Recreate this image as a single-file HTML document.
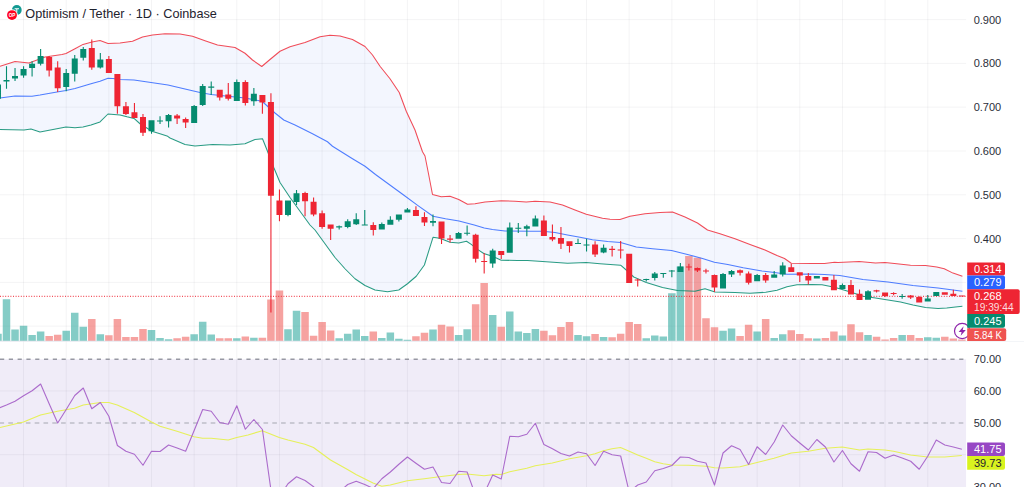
<!DOCTYPE html><html><head><meta charset="utf-8"><title>OP/USDT</title><style>
html,body{margin:0;padding:0;background:#fff}body{width:1024px;height:487px;overflow:hidden;font-family:"Liberation Sans",sans-serif}svg{display:block}text{font-family:"Liberation Sans",sans-serif}
</style></head><body>
<svg width="1024" height="487" viewBox="0 0 1024 487">
<rect width="1024" height="487" fill="#fff"/>
<rect x="0" y="359.2" width="966.3" height="127.80000000000001" fill="#7e57c2" fill-opacity="0.115"/>
<path d="M23.56 0V487 M66.21 0V487 M108.86 0V487 M151.51 0V487 M194.16 0V487 M236.81 0V487 M279.46 0V487 M322.11 0V487 M364.76 0V487 M407.41 0V487 M458.59 0V487 M501.24 0V487 M543.89 0V487 M586.54 0V487 M629.19 0V487 M671.84 0V487 M714.49 0V487 M757.14 0V487 M799.79 0V487 M842.44 0V487 M885.09 0V487 M927.74 0V487 M0 19.60H966.3 M0 63.40H966.3 M0 107.20H966.3 M0 151.00H966.3 M0 194.80H966.3 M0 238.60H966.3 M0 282.40H966.3 M0 326.20H966.3 M0 390.90H966.3 M0 454.70H966.3" stroke="#2a2e39" stroke-opacity="0.05" stroke-width="1" fill="none"/>
<path d="M0 341.1H1024" stroke="#e0e3eb" stroke-width="1" fill="none"/>
<polygon points="-3.00,67.00 0.00,66.30 15.00,61.50 29.00,63.10 45.00,56.90 62.00,54.40 66.00,53.50 75.00,48.75 83.00,44.40 92.00,41.90 100.00,40.60 108.00,43.40 120.00,43.00 132.50,41.25 142.50,37.00 152.50,35.00 165.00,33.75 180.00,34.00 192.50,36.25 205.00,40.75 217.50,45.00 235.00,47.50 245.00,53.25 252.50,60.00 261.75,66.50 270.00,59.50 280.00,51.25 290.00,46.75 305.00,42.50 320.00,36.75 330.00,35.25 340.00,35.90 352.50,39.50 365.00,46.50 372.50,55.00 380.00,66.25 390.00,78.75 399.25,92.50 406.25,111.25 415.00,130.00 422.50,151.75 425.00,156.00 428.75,175.00 432.50,194.50 441.25,196.75 450.00,196.25 458.75,199.50 467.50,204.25 475.00,203.75 485.00,202.00 501.25,200.75 515.00,201.25 526.25,202.00 535.00,201.25 550.00,202.00 562.50,205.00 575.00,210.00 586.25,214.25 602.50,218.25 610.00,219.25 620.00,219.50 630.00,216.25 645.00,213.75 660.00,212.50 672.50,212.00 685.00,217.00 697.50,223.00 707.50,230.00 720.00,233.75 735.00,238.75 750.00,244.50 765.00,250.00 777.00,255.60 784.50,258.50 791.25,263.20 812.00,263.60 824.50,263.40 834.50,262.25 838.00,262.50 859.25,261.50 875.50,262.90 885.00,262.50 896.75,263.75 910.50,265.25 925.50,265.60 936.75,266.90 944.25,268.75 953.00,273.10 962.40,276.25 962.40,306.25 955.50,306.90 946.75,308.10 938.00,308.40 925.50,307.50 913.00,305.00 900.50,302.10 888.00,300.00 875.50,298.10 863.00,296.25 850.50,291.90 837.00,288.10 829.50,286.25 822.00,284.70 812.00,284.50 797.00,284.80 787.00,286.70 777.00,290.25 765.75,292.25 750.00,293.20 735.00,292.60 715.00,292.00 705.00,288.75 695.00,291.25 677.50,290.50 662.50,287.50 646.25,282.60 633.75,277.00 626.25,270.00 620.60,265.20 600.00,263.75 586.25,262.50 567.50,263.20 542.50,261.50 527.50,260.60 517.50,260.40 501.25,260.30 496.25,258.10 490.00,255.60 483.75,253.50 477.50,249.40 471.25,244.40 466.50,241.25 458.75,243.00 450.00,242.25 443.00,239.60 438.00,238.10 433.00,237.30 424.40,265.00 416.25,276.25 407.50,283.75 398.75,290.00 387.50,291.75 375.00,290.00 365.00,285.50 355.00,278.75 345.00,268.75 335.00,257.50 325.00,243.75 315.00,230.00 310.00,225.00 300.00,211.25 290.00,197.50 280.00,182.50 273.75,167.50 267.50,151.25 262.50,138.75 255.00,139.50 245.00,143.75 230.00,145.00 212.50,144.50 195.00,146.00 185.00,144.50 170.00,138.00 167.00,135.90 160.00,133.75 151.00,130.90 148.00,128.75 140.00,123.75 134.00,118.40 127.00,116.80 120.00,115.00 117.00,114.75 108.00,114.00 100.00,121.90 91.00,125.00 83.00,126.90 75.00,127.75 66.00,126.90 40.00,131.90 31.00,129.10 24.00,130.00 0.00,129.40 -3.00,129.30" fill="#3769ee" fill-opacity="0.06"/>
<path d="M-5.78 340.7V333.75H1.72V340.7Z M2.75 340.7V299.25H10.25V340.7Z M11.28 340.7V329.50H18.78V340.7Z M19.81 340.7V325.75H27.31V340.7Z M28.34 340.7V335.00H35.84V340.7Z M36.87 340.7V331.50H44.37V340.7Z M62.46 340.7V330.75H69.96V340.7Z M70.99 340.7V312.75H78.49V340.7Z M79.52 340.7V326.75H87.02V340.7Z M96.58 340.7V334.25H104.08V340.7Z M147.76 340.7V330.00H155.26V340.7Z M156.29 340.7V338.00H163.79V340.7Z M164.82 340.7V339.25H172.32V340.7Z M190.41 340.7V334.25H197.91V340.7Z M198.94 340.7V321.75H206.44V340.7Z M207.47 340.7V334.60H214.97V340.7Z M233.06 340.7V338.25H240.56V340.7Z M250.12 340.7V337.75H257.62V340.7Z M284.24 340.7V329.25H291.74V340.7Z M292.77 340.7V310.75H300.27V340.7Z M335.42 340.7V338.25H342.92V340.7Z M343.95 340.7V333.75H351.45V340.7Z M352.48 340.7V329.50H359.98V340.7Z M361.01 340.7V336.00H368.51V340.7Z M378.07 340.7V338.00H385.57V340.7Z M386.60 340.7V332.50H394.10V340.7Z M395.13 340.7V338.75H402.63V340.7Z M403.66 340.7V339.75H411.16V340.7Z M429.25 340.7V329.50H436.75V340.7Z M454.84 340.7V335.00H462.34V340.7Z M463.37 340.7V329.25H470.87V340.7Z M488.96 340.7V315.00H496.46V340.7Z M506.02 340.7V311.50H513.52V340.7Z M514.55 340.7V331.50H522.05V340.7Z M523.08 340.7V333.00H530.58V340.7Z M531.61 340.7V329.00H539.11V340.7Z M574.26 340.7V335.00H581.76V340.7Z M582.79 340.7V336.25H590.29V340.7Z M599.85 340.7V337.00H607.35V340.7Z M642.50 340.7V338.25H650.00V340.7Z M651.03 340.7V335.50H658.53V340.7Z M659.56 340.7V336.50H667.06V340.7Z M668.09 340.7V293.25H675.59V340.7Z M676.62 340.7V266.50H684.12V340.7Z M719.27 340.7V330.75H726.77V340.7Z M727.80 340.7V328.50H735.30V340.7Z M753.39 340.7V331.50H760.89V340.7Z M770.45 340.7V338.00H777.95V340.7Z M778.98 340.7V334.25H786.48V340.7Z M813.10 340.7V338.50H820.60V340.7Z M838.69 340.7V335.50H846.19V340.7Z M864.28 340.7V335.00H871.78V340.7Z M898.40 340.7V335.00H905.90V340.7Z M923.99 340.7V337.25H931.49V340.7Z M932.52 340.7V337.75H940.02V340.7Z" fill="#26a69a" fill-opacity="0.57"/>
<path d="M45.40 340.7V336.00H52.90V340.7Z M53.93 340.7V334.75H61.43V340.7Z M88.05 340.7V319.00H95.55V340.7Z M105.11 340.7V335.25H112.61V340.7Z M113.64 340.7V319.00H121.14V340.7Z M122.17 340.7V337.00H129.67V340.7Z M130.70 340.7V337.00H138.20V340.7Z M139.23 340.7V329.00H146.73V340.7Z M173.35 340.7V338.25H180.85V340.7Z M181.88 340.7V336.75H189.38V340.7Z M216.00 340.7V338.25H223.50V340.7Z M224.53 340.7V338.25H232.03V340.7Z M241.59 340.7V336.50H249.09V340.7Z M258.65 340.7V337.75H266.15V340.7Z M267.18 340.7V299.50H274.68V340.7Z M275.71 340.7V290.50H283.21V340.7Z M301.30 340.7V312.00H308.80V340.7Z M309.83 340.7V335.75H317.33V340.7Z M318.36 340.7V322.00H325.86V340.7Z M326.89 340.7V330.50H334.39V340.7Z M369.54 340.7V331.50H377.04V340.7Z M412.19 340.7V336.25H419.69V340.7Z M420.72 340.7V332.75H428.22V340.7Z M437.78 340.7V324.75H445.28V340.7Z M446.31 340.7V326.50H453.81V340.7Z M471.90 340.7V304.25H479.40V340.7Z M480.43 340.7V283.00H487.93V340.7Z M497.49 340.7V326.75H504.99V340.7Z M540.14 340.7V330.75H547.64V340.7Z M548.67 340.7V335.25H556.17V340.7Z M557.20 340.7V327.00H564.70V340.7Z M565.73 340.7V322.00H573.23V340.7Z M591.32 340.7V334.00H598.82V340.7Z M608.38 340.7V337.25H615.88V340.7Z M616.91 340.7V333.75H624.41V340.7Z M625.44 340.7V322.00H632.94V340.7Z M633.97 340.7V324.00H641.47V340.7Z M685.15 340.7V256.00H692.65V340.7Z M693.68 340.7V257.75H701.18V340.7Z M702.21 340.7V318.25H709.71V340.7Z M710.74 340.7V327.25H718.24V340.7Z M736.33 340.7V336.00H743.83V340.7Z M744.86 340.7V324.75H752.36V340.7Z M761.92 340.7V319.00H769.42V340.7Z M787.51 340.7V330.25H795.01V340.7Z M796.04 340.7V334.00H803.54V340.7Z M804.57 340.7V338.25H812.07V340.7Z M821.63 340.7V338.00H829.13V340.7Z M830.16 340.7V331.50H837.66V340.7Z M847.22 340.7V324.25H854.72V340.7Z M855.75 340.7V332.25H863.25V340.7Z M872.81 340.7V336.75H880.31V340.7Z M881.34 340.7V339.50H888.84V340.7Z M889.87 340.7V338.00H897.37V340.7Z M906.93 340.7V335.00H914.43V340.7Z M915.46 340.7V338.00H922.96V340.7Z M941.05 340.7V336.75H948.55V340.7Z M949.58 340.7V338.50H957.08V340.7Z M958.11 340.7V339.50H965.61V340.7Z" fill="#ef5350" fill-opacity="0.54"/>
<path d="M0 296.3H966.3" stroke="#ee2533" stroke-width="1" stroke-dasharray="1 1.6" fill="none"/>
<polyline points="-3.00,67.00 0.00,66.30 15.00,61.50 29.00,63.10 45.00,56.90 62.00,54.40 66.00,53.50 75.00,48.75 83.00,44.40 92.00,41.90 100.00,40.60 108.00,43.40 120.00,43.00 132.50,41.25 142.50,37.00 152.50,35.00 165.00,33.75 180.00,34.00 192.50,36.25 205.00,40.75 217.50,45.00 235.00,47.50 245.00,53.25 252.50,60.00 261.75,66.50 270.00,59.50 280.00,51.25 290.00,46.75 305.00,42.50 320.00,36.75 330.00,35.25 340.00,35.90 352.50,39.50 365.00,46.50 372.50,55.00 380.00,66.25 390.00,78.75 399.25,92.50 406.25,111.25 415.00,130.00 422.50,151.75 425.00,156.00 428.75,175.00 432.50,194.50 441.25,196.75 450.00,196.25 458.75,199.50 467.50,204.25 475.00,203.75 485.00,202.00 501.25,200.75 515.00,201.25 526.25,202.00 535.00,201.25 550.00,202.00 562.50,205.00 575.00,210.00 586.25,214.25 602.50,218.25 610.00,219.25 620.00,219.50 630.00,216.25 645.00,213.75 660.00,212.50 672.50,212.00 685.00,217.00 697.50,223.00 707.50,230.00 720.00,233.75 735.00,238.75 750.00,244.50 765.00,250.00 777.00,255.60 784.50,258.50 791.25,263.20 812.00,263.60 824.50,263.40 834.50,262.25 838.00,262.50 859.25,261.50 875.50,262.90 885.00,262.50 896.75,263.75 910.50,265.25 925.50,265.60 936.75,266.90 944.25,268.75 953.00,273.10 962.40,276.25" fill="none" stroke="#ee2533" stroke-width="1.05" stroke-opacity="0.82" stroke-linejoin="round"/>
<polyline points="-3.00,129.30 0.00,129.40 24.00,130.00 31.00,129.10 40.00,131.90 66.00,126.90 75.00,127.75 83.00,126.90 91.00,125.00 100.00,121.90 108.00,114.00 117.00,114.75 120.00,115.00 127.00,116.80 134.00,118.40 140.00,123.75 148.00,128.75 151.00,130.90 160.00,133.75 167.00,135.90 170.00,138.00 185.00,144.50 195.00,146.00 212.50,144.50 230.00,145.00 245.00,143.75 255.00,139.50 262.50,138.75 267.50,151.25 273.75,167.50 280.00,182.50 290.00,197.50 300.00,211.25 310.00,225.00 315.00,230.00 325.00,243.75 335.00,257.50 345.00,268.75 355.00,278.75 365.00,285.50 375.00,290.00 387.50,291.75 398.75,290.00 407.50,283.75 416.25,276.25 424.40,265.00 433.00,237.30 438.00,238.10 443.00,239.60 450.00,242.25 458.75,243.00 466.50,241.25 471.25,244.40 477.50,249.40 483.75,253.50 490.00,255.60 496.25,258.10 501.25,260.30 517.50,260.40 527.50,260.60 542.50,261.50 567.50,263.20 586.25,262.50 600.00,263.75 620.60,265.20 626.25,270.00 633.75,277.00 646.25,282.60 662.50,287.50 677.50,290.50 695.00,291.25 705.00,288.75 715.00,292.00 735.00,292.60 750.00,293.20 765.75,292.25 777.00,290.25 787.00,286.70 797.00,284.80 812.00,284.50 822.00,284.70 829.50,286.25 837.00,288.10 850.50,291.90 863.00,296.25 875.50,298.10 888.00,300.00 900.50,302.10 913.00,305.00 925.50,307.50 938.00,308.40 946.75,308.10 955.50,306.90 962.40,306.25" fill="none" stroke="#058b6f" stroke-width="1.05" stroke-opacity="0.85" stroke-linejoin="round"/>
<polyline points="-3.00,98.50 0.00,98.10 15.00,96.00 32.00,96.25 40.00,95.00 57.00,91.90 66.00,90.60 75.00,88.50 91.00,83.75 100.00,81.25 108.00,78.30 113.00,78.40 120.00,79.40 134.00,80.00 151.00,82.50 168.00,85.00 185.00,89.00 200.00,92.50 211.00,94.60 228.00,96.25 245.00,98.10 262.00,101.25 275.00,113.00 283.75,120.00 295.00,125.00 312.50,133.75 327.50,141.75 332.50,146.25 352.50,158.75 365.00,166.25 375.50,174.50 403.60,195.00 418.00,205.60 433.00,216.25 445.50,218.75 459.00,221.00 474.25,225.00 484.25,228.10 492.50,229.40 505.00,231.00 530.00,231.25 542.50,231.25 555.00,232.50 567.50,235.00 580.00,237.25 592.50,239.75 607.75,241.60 620.60,242.40 636.25,246.90 652.50,248.75 671.50,250.60 687.50,254.40 702.50,258.50 714.40,262.25 727.75,264.40 743.25,267.75 762.00,271.00 774.50,272.50 787.00,274.20 812.00,274.00 824.50,274.40 839.75,275.60 863.00,279.40 888.00,281.90 913.00,285.60 938.00,288.10 962.40,291.25" fill="none" stroke="#2962ff" stroke-width="1.05" stroke-opacity="0.82" stroke-linejoin="round"/>
<path d="M-2.58 82.00H-1.48V100.00H-2.58Z M-5.03 84.40H0.97V98.75H-5.03Z M5.95 66.30H7.05V88.80H5.95Z M3.50 80.00H9.50V81.60H3.50Z M14.48 67.90H15.58V80.90H14.48Z M12.03 75.90H18.03V78.50H12.03Z M23.01 66.30H24.11V77.80H23.01Z M20.56 69.00H26.56V75.60H20.56Z M31.54 61.30H32.64V76.50H31.54Z M29.09 63.80H35.09V67.90H29.09Z M40.07 49.00H41.17V65.60H40.07Z M37.62 56.00H43.62V63.80H37.62Z M65.66 69.10H66.76V91.25H65.66Z M63.21 73.10H69.21V87.10H63.21Z M74.19 55.00H75.29V81.60H74.19Z M71.74 58.50H77.74V73.80H71.74Z M82.72 46.90H83.82V60.60H82.72Z M80.27 49.10H86.27V57.80H80.27Z M99.78 52.90H100.88V68.50H99.78Z M97.33 59.60H103.33V67.50H97.33Z M150.96 120.25H152.06V133.75H150.96Z M148.51 120.25H154.51V131.25H148.51Z M159.49 116.25H160.59V124.10H159.49Z M157.04 120.40H163.04V121.50H157.04Z M168.02 114.00H169.12V127.50H168.02Z M165.57 115.00H171.57V121.25H165.57Z M193.61 105.00H194.71V123.10H193.61Z M191.16 106.00H197.16V123.10H191.16Z M202.14 84.00H203.24V106.00H202.14Z M199.69 86.00H205.69V105.00H199.69Z M210.67 81.50H211.77V95.00H210.67Z M208.22 86.50H214.22V87.75H208.22Z M236.26 79.40H237.36V100.90H236.26Z M233.81 82.10H239.81V100.90H233.81Z M253.32 88.00H254.42V105.75H253.32Z M250.87 93.75H256.87V101.25H250.87Z M287.44 200.50H288.54V216.25H287.44Z M284.99 200.50H290.99V215.00H284.99Z M295.97 190.00H297.07V205.00H295.97Z M293.52 193.25H299.52V202.00H293.52Z M338.62 225.50H339.72V229.50H338.62Z M336.17 226.25H342.17V227.50H336.17Z M347.15 219.25H348.25V228.25H347.15Z M344.70 221.25H350.70V227.00H344.70Z M355.68 213.25H356.78V225.00H355.68Z M353.23 219.25H359.23V224.25H353.23Z M364.21 210.00H365.31V225.50H364.21Z M361.76 224.50H367.76V225.50H361.76Z M381.27 222.50H382.37V229.60H381.27Z M378.82 224.00H384.82V229.60H378.82Z M389.80 216.25H390.90V224.75H389.80Z M387.35 219.75H393.35V224.75H387.35Z M398.33 214.40H399.43V221.50H398.33Z M395.88 214.40H401.88V219.75H395.88Z M406.86 207.90H407.96V212.50H406.86Z M404.41 209.60H410.41V212.50H404.41Z M432.45 214.40H433.55V226.25H432.45Z M430.00 221.00H436.00V222.75H430.00Z M458.04 232.10H459.14V238.75H458.04Z M455.59 233.10H461.59V238.75H455.59Z M466.57 225.60H467.67V235.60H466.57Z M464.12 232.82H470.12V233.82H464.12Z M492.16 248.75H493.26V267.75H492.16Z M489.71 250.40H495.71V263.50H489.71Z M509.22 222.50H510.32V252.75H509.22Z M506.77 227.50H512.77V252.75H506.77Z M517.75 222.90H518.85V233.10H517.75Z M515.30 227.75H521.30V228.75H515.30Z M526.28 224.75H527.38V236.25H526.28Z M523.83 226.25H529.83V228.75H523.83Z M534.81 215.60H535.91V226.60H534.81Z M532.36 218.40H538.36V226.60H532.36Z M577.46 238.75H578.56V244.10H577.46Z M575.01 243.10H581.01V244.10H575.01Z M585.99 238.75H587.09V251.60H585.99Z M583.54 244.40H589.54V245.40H583.54Z M603.05 244.40H604.15V253.25H603.05Z M600.60 247.75H606.60V252.60H600.60Z M645.70 278.75H646.80V281.50H645.70Z M643.25 279.05H649.25V280.05H643.25Z M654.23 271.90H655.33V280.60H654.23Z M651.78 273.40H657.78V277.90H651.78Z M662.76 272.90H663.86V277.75H662.76Z M660.31 272.90H666.31V274.00H660.31Z M671.29 270.00H672.39V277.25H671.29Z M668.84 270.55H674.84V271.55H668.84Z M679.82 263.10H680.92V271.90H679.82Z M677.37 266.60H683.37V271.90H677.37Z M722.47 273.10H723.57V288.50H722.47Z M720.02 274.00H726.02V288.50H720.02Z M731.00 270.00H732.10V276.90H731.00Z M728.55 270.90H734.55V274.40H728.55Z M756.59 274.00H757.69V281.25H756.59Z M754.14 275.00H760.14V281.25H754.14Z M773.65 270.90H774.75V277.75H773.65Z M771.20 274.40H777.20V277.75H771.20Z M782.18 262.25H783.28V276.50H782.18Z M779.73 265.60H785.73V274.40H779.73Z M816.30 276.00H817.40V278.50H816.30Z M813.85 276.00H819.85V278.50H813.85Z M841.89 283.50H842.99V289.00H841.89Z M839.44 285.00H845.44V289.00H839.44Z M867.48 290.25H868.58V299.75H867.48Z M865.03 291.25H871.03V299.75H865.03Z M901.60 294.00H902.70V298.75H901.60Z M899.15 296.00H905.15V297.00H899.15Z M927.19 295.00H928.29V301.50H927.19Z M924.74 298.50H930.74V301.50H924.74Z M935.72 292.10H936.82V295.90H935.72Z M933.27 292.10H939.27V295.90H933.27Z" fill="#058b6f"/>
<path d="M48.60 56.00H49.70V76.50H48.60Z M46.15 56.90H52.15V70.60H46.15Z M57.13 61.30H58.23V91.90H57.13Z M54.68 67.50H60.68V88.20H54.68Z M91.25 39.40H92.35V69.80H91.25Z M88.80 47.90H94.80V67.50H88.80Z M108.31 56.00H109.41V73.10H108.31Z M105.86 59.00H111.86V72.90H105.86Z M116.84 74.10H117.94V113.75H116.84Z M114.39 74.10H120.39V106.25H114.39Z M125.37 101.90H126.47V115.00H125.37Z M122.92 106.25H128.92V114.00H122.92Z M133.90 103.10H135.00V118.10H133.90Z M131.45 112.25H137.45V117.90H131.45Z M142.43 114.00H143.53V136.00H142.43Z M139.98 117.10H145.98V132.75H139.98Z M176.55 114.00H177.65V124.10H176.55Z M174.10 115.60H180.10V118.40H174.10Z M185.08 117.50H186.18V128.10H185.08Z M182.63 119.00H188.63V122.50H182.63Z M219.20 89.75H220.30V100.60H219.20Z M216.75 89.75H222.75V97.50H216.75Z M227.73 83.10H228.83V100.60H227.73Z M225.28 94.40H231.28V98.75H225.28Z M244.79 80.25H245.89V105.40H244.79Z M242.34 81.90H248.34V103.10H242.34Z M261.85 95.00H262.95V113.75H261.85Z M259.40 95.00H265.40V102.50H259.40Z M270.38 93.25H271.48V312.50H270.38Z M267.93 102.00H273.93V195.75H267.93Z M278.91 189.50H280.01V221.25H278.91Z M276.46 200.50H282.46V215.00H276.46Z M304.50 191.75H305.60V216.25H304.50Z M302.05 193.00H308.05V201.25H302.05Z M313.03 197.50H314.13V216.25H313.03Z M310.58 201.75H316.58V214.50H310.58Z M321.56 210.50H322.66V228.75H321.56Z M319.11 213.25H325.11V227.00H319.11Z M330.09 224.50H331.19V240.00H330.09Z M327.64 224.50H333.64V228.75H327.64Z M372.74 222.25H373.84V235.60H372.74Z M370.29 225.00H376.29V230.00H370.29Z M415.39 206.25H416.49V215.90H415.39Z M412.94 210.00H418.94V215.90H412.94Z M423.92 212.25H425.02V226.00H423.92Z M421.47 216.90H427.47V222.50H421.47Z M440.98 221.50H442.08V244.00H440.98Z M438.53 221.50H444.53V238.40H438.53Z M449.51 235.00H450.61V242.50H449.51Z M447.06 238.40H453.06V239.75H447.06Z M475.10 233.75H476.20V262.50H475.10Z M472.65 234.75H478.65V258.75H472.65Z M483.63 253.10H484.73V273.50H483.63Z M481.18 261.00H487.18V262.10H481.18Z M500.69 250.90H501.79V259.00H500.69Z M498.24 250.90H504.24V255.00H498.24Z M543.34 215.60H544.44V235.90H543.34Z M540.89 220.60H546.89V235.90H540.89Z M551.87 224.40H552.97V241.25H551.87Z M549.42 236.90H555.42V239.60H549.42Z M560.40 226.90H561.50V249.00H560.40Z M557.95 238.10H563.95V243.75H557.95Z M568.93 241.25H570.03V252.50H568.93Z M566.48 241.25H572.48V245.90H566.48Z M594.52 241.25H595.62V256.90H594.52Z M592.07 244.40H598.07V254.60H592.07Z M611.58 246.00H612.68V256.60H611.58Z M609.13 248.75H615.13V250.00H609.13Z M620.11 241.00H621.21V258.50H620.11Z M617.66 249.40H623.66V250.60H617.66Z M628.64 253.75H629.74V283.10H628.64Z M626.19 253.75H632.19V283.10H626.19Z M637.17 278.75H638.27V286.50H637.17Z M634.72 279.60H640.72V280.60H634.72Z M688.35 263.75H689.45V270.60H688.35Z M685.90 266.55H691.90V267.55H685.90Z M696.88 267.50H697.98V271.90H696.88Z M694.43 268.10H700.43V270.60H694.43Z M705.41 268.75H706.51V273.40H705.41Z M702.96 270.40H708.96V271.50H702.96Z M713.94 274.40H715.04V291.90H713.94Z M711.49 275.00H717.49V287.60H711.49Z M739.53 269.40H740.63V275.60H739.53Z M737.08 270.25H743.08V272.75H737.08Z M748.06 271.50H749.16V284.40H748.06Z M745.61 273.50H751.61V282.75H745.61Z M765.12 273.10H766.22V282.75H765.12Z M762.67 275.00H768.67V280.60H762.67Z M790.71 263.75H791.81V271.90H790.71Z M788.26 267.25H794.26V271.90H788.26Z M799.24 272.25H800.34V281.90H799.24Z M796.79 272.25H802.79V275.60H796.79Z M807.77 273.10H808.87V284.40H807.77Z M805.32 276.00H811.32V280.60H805.32Z M824.83 276.90H825.93V280.60H824.83Z M822.38 276.90H828.38V280.60H822.38Z M833.36 275.00H834.46V290.25H833.36Z M830.91 279.75H836.91V290.25H830.91Z M850.42 280.00H851.52V294.40H850.42Z M847.97 285.00H853.97V294.40H847.97Z M858.95 289.40H860.05V300.00H858.95Z M856.50 293.75H862.50V300.00H856.50Z M876.01 289.75H877.11V292.50H876.01Z M873.56 290.25H879.56V291.50H873.56Z M884.54 292.50H885.64V296.90H884.54Z M882.09 292.50H888.09V295.90H882.09Z M893.07 292.25H894.17V295.25H893.07Z M890.62 293.10H896.62V294.10H890.62Z M910.13 295.00H911.23V299.00H910.13Z M907.68 295.60H913.68V297.50H907.68Z M918.66 296.25H919.76V302.50H918.66Z M916.21 297.10H922.21V302.50H916.21Z M944.25 292.25H945.35V294.75H944.25Z M941.80 292.25H947.80V294.75H941.80Z M952.78 289.75H953.88V296.00H952.78Z M950.33 293.75H956.33V296.00H950.33Z M961.31 295.60H962.41V296.50H961.31Z M958.86 295.55H964.86V296.55H958.86Z" fill="#ee2533"/>
<path d="M0 359.2H966.3" stroke="#787b86" stroke-opacity="0.75" stroke-width="1.5" stroke-dasharray="4.2 4.6" fill="none"/>
<path d="M-0.5 423H966.3" stroke="#787b86" stroke-opacity="0.42" stroke-width="1.4" stroke-dasharray="4.6 4.2" fill="none"/>
<polyline points="-3.00,428.00 0.00,427.50 23.50,422.00 40.50,415.00 57.50,411.25 74.50,408.25 83.25,405.00 100.25,402.50 108.75,402.50 117.25,405.00 134.25,412.50 151.50,422.00 160.00,426.25 177.00,431.25 194.00,436.75 202.50,438.25 211.25,438.25 228.25,440.00 236.75,437.50 248.00,435.00 262.25,430.75 279.25,437.50 288.00,440.00 305.00,444.25 313.50,447.50 330.50,460.00 347.50,469.50 356.00,474.50 373.00,483.00 381.75,486.25 390.25,485.00 407.25,480.75 424.25,478.75 441.25,476.50 458.50,474.50 467.00,474.00 484.00,475.75 496.00,474.40 501.25,474.50 509.75,471.75 526.75,468.25 535.25,465.75 552.25,463.00 569.50,458.75 586.50,455.75 595.00,453.75 603.50,450.75 612.00,448.75 620.50,447.50 629.25,451.25 637.75,455.00 646.25,458.25 654.75,461.75 663.25,463.75 671.75,465.00 688.75,465.25 706.00,466.25 714.50,467.75 723.00,468.00 740.00,466.75 757.00,462.50 774.00,458.25 791.25,453.00 808.25,451.25 825.25,448.25 842.25,447.00 859.50,450.00 868.00,449.00 885.00,450.00 893.50,451.25 910.50,455.00 927.75,457.00 944.75,457.00 961.80,455.50" fill="none" stroke="#e6f05a" stroke-width="1.2" stroke-linejoin="round"/>
<polyline points="-2.03,408.50 6.50,405.00 15.03,401.25 23.56,395.75 32.09,390.75 40.62,384.00 49.15,403.75 57.68,423.00 66.21,409.50 74.74,395.50 83.27,388.00 91.80,408.75 100.33,402.50 108.86,416.25 117.39,445.50 125.92,451.25 134.45,454.25 142.98,465.25 151.51,451.25 160.04,451.50 168.57,445.00 177.10,448.00 185.63,451.25 194.16,430.50 202.69,409.50 211.22,411.25 219.75,422.50 228.28,424.25 236.81,405.75 245.34,429.25 253.87,419.50 262.40,429.50 270.93,489.75 279.46,496.50 287.99,483.75 296.52,476.75 305.05,480.50 313.58,486.75 322.11,495.00 330.64,497.00 339.17,492.00 347.70,484.50 356.23,481.25 364.76,484.50 373.29,488.50 381.82,478.75 390.35,472.00 398.88,464.25 407.41,457.00 415.94,463.25 424.47,469.25 433.00,467.00 441.53,482.50 450.06,483.50 458.59,471.25 467.12,472.00 475.65,495.75 484.18,493.60 492.71,475.00 501.24,479.00 509.77,436.25 518.30,436.75 526.83,434.25 535.36,423.25 543.89,444.50 552.42,448.75 560.95,453.50 569.48,456.00 578.01,452.00 586.54,453.75 595.07,465.50 603.60,451.25 612.13,454.75 620.66,456.00 629.19,492.00 637.72,485.00 646.25,482.00 654.78,470.75 663.31,468.50 671.84,465.50 680.37,457.00 688.90,457.50 697.43,461.25 705.96,463.00 714.49,485.00 723.02,453.00 731.55,445.75 740.08,449.50 748.61,464.50 757.14,446.75 765.67,454.50 774.20,442.00 782.73,425.00 791.26,435.75 799.79,443.00 808.32,450.00 816.85,439.50 825.38,447.00 833.91,462.00 842.44,450.50 850.97,463.75 859.50,471.25 868.03,451.75 876.56,452.50 885.09,458.25 893.62,455.00 902.15,458.00 910.68,461.25 919.21,469.25 927.74,456.25 936.27,440.00 944.80,445.00 953.33,447.00 961.86,449.25" fill="none" stroke="#a560c8" stroke-width="1.1" stroke-opacity="0.92" stroke-linejoin="round"/>
<rect x="966.3" y="0" width="57.700000000000045" height="341" fill="#fff"/>
<rect x="966.3" y="341.6" width="57.700000000000045" height="145.39999999999998" fill="#fff"/>
<text x="973.7" y="23.5" font-size="11" fill="#2a2e39" text-anchor="start" >0.900</text>
<text x="973.7" y="67.3" font-size="11" fill="#2a2e39" text-anchor="start" >0.800</text>
<text x="973.7" y="111.1" font-size="11" fill="#2a2e39" text-anchor="start" >0.700</text>
<text x="973.7" y="154.89999999999998" font-size="11" fill="#2a2e39" text-anchor="start" >0.600</text>
<text x="973.7" y="198.7" font-size="11" fill="#2a2e39" text-anchor="start" >0.500</text>
<text x="973.7" y="242.5" font-size="11" fill="#2a2e39" text-anchor="start" >0.400</text>
<text x="973.7" y="363.09999999999997" font-size="11" fill="#2a2e39" text-anchor="start" >70.00</text>
<text x="973.7" y="394.9" font-size="11" fill="#2a2e39" text-anchor="start" >60.00</text>
<text x="973.7" y="426.9" font-size="11" fill="#2a2e39" text-anchor="start" >50.00</text>
<text x="973.7" y="490.9" font-size="11" fill="#2a2e39" text-anchor="start" >30.00</text>
<g><circle cx="962.2" cy="331" r="7.7" fill="#fff" stroke="#8e24aa" stroke-width="1.2"/><path d="M963.6 326.2L958.6 331.9H961.6L960.7 335.8L965.8 330.1H962.7Z" fill="#8e24aa"/></g>
<path d="M967.2 262.4H1003.0a2 2 0 0 1 2 2V273.6a2 2 0 0 1 -2 2H967.2Z" fill="#ee2533"/>
<text x="974" y="273" font-size="11" fill="#fff" text-anchor="start" >0.314</text>
<path d="M967.2 275.6H1003.0a2 2 0 0 1 2 2V287.2a2 2 0 0 1 -2 2H967.2Z" fill="#2962ff"/>
<text x="974" y="286.4" font-size="11" fill="#fff" text-anchor="start" >0.279</text>
<path d="M967.2 289.2H1017.7a2 2 0 0 1 2 2V312a2 2 0 0 1 -2 2H967.2Z" fill="#ee2533"/>
<text x="974" y="299.6" font-size="11" fill="#fff" text-anchor="start" >0.268</text>
<text x="974" y="310.7" font-size="11" fill="#fff" text-anchor="start" textLength="39.6" lengthAdjust="spacingAndGlyphs" fill-opacity="0.85">19:39:44</text>
<path d="M967.2 314H1003.0a2 2 0 0 1 2 2V325.8a2 2 0 0 1 -2 2H967.2Z" fill="#058b6f"/>
<text x="974" y="325" font-size="11" fill="#fff" text-anchor="start" >0.245</text>
<path d="M967.2 328.2H1004.2a2 2 0 0 1 2 2V338.9a2 2 0 0 1 -2 2H967.2Z" fill="#ef5350"/>
<text x="974" y="338.7" font-size="11" fill="#fff" text-anchor="start" textLength="28" lengthAdjust="spacingAndGlyphs">5.84 K</text>
<path d="M967.2 442.4H1003.0a2 2 0 0 1 2 2V454.1a2 2 0 0 1 -2 2H967.2Z" fill="#9747c4"/>
<text x="974" y="453.3" font-size="11" fill="#fff" text-anchor="start" >41.75</text>
<path d="M967.2 456.1H1003.0a2 2 0 0 1 2 2V467.8a2 2 0 0 1 -2 2H967.2Z" fill="#d9f31f"/>
<text x="974" y="467" font-size="11" fill="#1e222d" text-anchor="start" >39.73</text>
<circle cx="16.8" cy="10" r="4.9" fill="#139a92"/>
<path d="M14.6 8.2H19V9.2H17.3V12.2H16.3V9.2H14.6Z" fill="#fff"/>
<circle cx="12" cy="15.1" r="5.9" fill="#fff"/>
<circle cx="12" cy="15.1" r="4.95" fill="#ff0420"/>
<text x="12" y="16.7" font-size="4.6" font-weight="bold" fill="#fff" text-anchor="middle">OP</text>
<text x="25.3" y="18.1" font-size="13.4" fill="#1e222d" id="title" textLength="191.6" lengthAdjust="spacingAndGlyphs">Optimism / Tether · 1D · Coinbase</text>
</svg></body></html>
